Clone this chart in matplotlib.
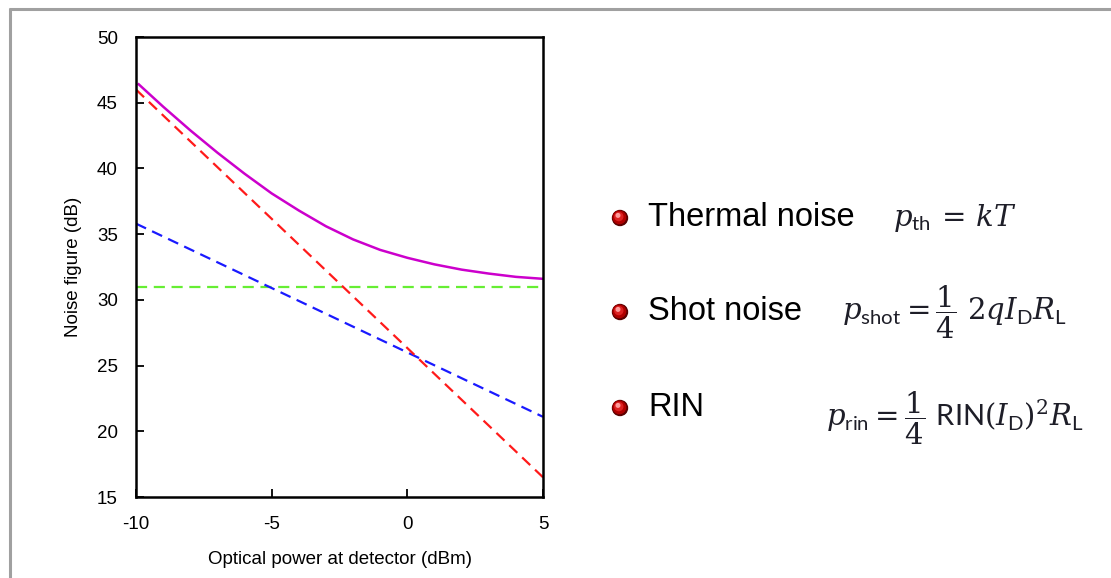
import matplotlib
matplotlib.use("Agg")
import matplotlib.pyplot as plt
from matplotlib.patches import Circle

plt.rcParams['font.family'] = ['Liberation Sans', 'DejaVu Sans']
plt.rcParams['axes.unicode_minus'] = False
plt.rcParams['mathtext.fontset'] = 'custom'
plt.rcParams['mathtext.rm'] = 'DejaVu Serif'
plt.rcParams['mathtext.it'] = 'DejaVu Serif:italic'
plt.rcParams['mathtext.sf'] = 'Lato'

# data
power_ends = [-10, 5]
shot_ends = [46.0, 16.5]      # red dashed
rin_ends = [35.8, 21.1]       # blue dashed
thermal_ends = [31.0, 31.0]   # green dashed

power_total = [-9.9, -9, -8, -7, -6, -5, -4, -3, -2, -1, 0, 1, 2, 3, 4, 5]
total_nf = [46.4, 44.7, 42.9, 41.2, 39.6, 38.1, 36.8, 35.6, 34.6, 33.8, 33.2,
            32.7, 32.3, 32.0, 31.75, 31.6]

x_ticks = [-10, -5, 0, 5]
y_ticks = [15, 20, 25, 30, 35, 40, 45, 50]

items = ["Thermal noise", "Shot noise", "RIN"]
formulas = [r'$p_{\mathsf{th}}\,=\,kT$',
            r'$p_{\mathsf{shot}}=\dfrac{1}{4}\ 2qI_{\mathsf{D}}R_{\mathsf{L}}$',
            r'$p_{\mathsf{rin}}=\dfrac{1}{4}\ \mathsf{RIN}(I_{\mathsf{D}})^2R_{\mathsf{L}}$']

W, H = 1111, 578
fig = plt.figure(figsize=(W / 100, H / 100), dpi=100)
ax = fig.add_axes([136 / W, 1 - 497 / H, (543 - 136) / W, (497 - 37) / H])

dash = (0, (5, 3))
ax.plot(power_ends, thermal_ends, color='#66ee33', lw=1.6, linestyle=dash)
ax.plot(power_ends, rin_ends, color='#1a1aff', lw=1.6, linestyle=dash)
ax.plot(power_ends, shot_ends, color='#ff1a1a', lw=1.6, linestyle=dash)
ax.plot(power_total, total_nf, color='#cc00cc', lw=1.8)

ax.set_xlim(-10, 5)
ax.set_ylim(15, 50)
ax.set_xticks(x_ticks)
ax.set_yticks(y_ticks)
ax.tick_params(direction='in', length=6, width=1.3, labelsize=13.5,
               top=False, right=False)
ax.tick_params(axis='x', pad=14)
ax.tick_params(axis='y', pad=13)
for s in ax.spines.values():
    s.set_linewidth(1.8)
ax.set_xlabel('Optical power at detector (dBm)', fontsize=13.5, labelpad=13)
ax.set_ylabel('Noise figure (dB)', fontsize=13.5, labelpad=11)

# overlay in pixel coordinates for border, bullets, texts
ov = fig.add_axes([0, 0, 1, 1])
ov.set_xlim(0, W)
ov.set_ylim(H, 0)
ov.axis('off')
ov.plot([9, W], [8.5, 8.5], color='#a0a0a0', lw=2.2, solid_capstyle='butt')
ov.plot([9.5, 9.5], [8, H], color='#a0a0a0', lw=2.2, solid_capstyle='butt')

bullet_y = [218, 312, 408]
formula_x = [893, 842, 826]
formula_y = [218, 312, 418]
for i, label in enumerate(items):
    cx, cy = 620, bullet_y[i]
    ov.add_patch(Circle((cx, cy), 7.5, color='#5a0000'))
    ov.add_patch(Circle((cx - 0.6, cy - 0.6), 6.2, color='#b00000'))
    ov.add_patch(Circle((cx - 1.2, cy - 1.4), 4.0, color='#dd2222'))
    ov.add_patch(Circle((cx - 2.0, cy - 2.6), 1.8, color='#ff9a9a'))
    ov.text(648, cy - 1, label, fontsize=23.5, va='center', ha='left', color='black')
    ov.text(formula_x[i], formula_y[i], formulas[i], fontsize=21, va='center',
            ha='left', color='#1e1e28')

fig.savefig('out.png', dpi=100)
